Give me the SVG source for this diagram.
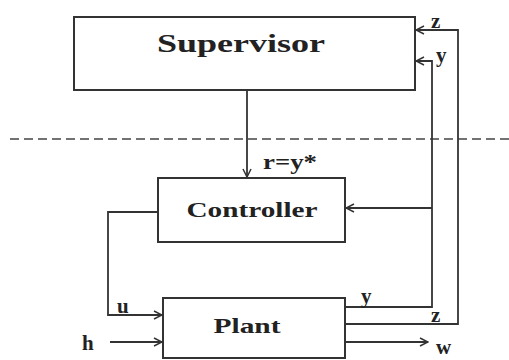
<svg xmlns="http://www.w3.org/2000/svg" width="509" height="360" viewBox="0 0 509 360">
<defs>
<style>
.box{fill:#fff;stroke:#333;stroke-width:2}
.ln{fill:none;stroke:#333;stroke-width:1.8}
.t{font-family:"Liberation Serif","Times New Roman",serif;font-weight:bold;fill:#222}
.s{font-size:21px}
</style>
<marker id="a" markerWidth="10" markerHeight="10" refX="9" refY="5" orient="auto" markerUnits="userSpaceOnUse">
<path d="M1,1 L9,5 L1,9" fill="none" stroke="#333" stroke-width="1.5"/>
</marker>
</defs>
<rect width="509" height="360" fill="#fff"/>
<line x1="10" y1="139" x2="509" y2="139" stroke="#444" stroke-width="1.6" stroke-dasharray="9,5"/>
<g id="supervisor">
<rect class="box" x="74" y="17" width="341" height="73"/>
<text class="t" x="241" y="52" font-size="26" text-anchor="middle" textLength="168" lengthAdjust="spacingAndGlyphs">Supervisor</text>
</g>
<g id="controller">
<rect class="box" x="158" y="178" width="187" height="64"/>
<text class="t" x="252" y="217" font-size="22" text-anchor="middle" textLength="131" lengthAdjust="spacingAndGlyphs">Controller</text>
</g>
<g id="plant">
<rect class="box" x="163" y="298" width="182" height="60"/>
<text class="t" x="247" y="333" font-size="22" text-anchor="middle" textLength="67" lengthAdjust="spacingAndGlyphs">Plant</text>
</g>
<g id="connectors">
<path class="ln" d="M247,90 V177" marker-end="url(#a)"/>
<path class="ln" d="M158,212 H108 V315 H162" marker-end="url(#a)"/>
<path class="ln" d="M110,342 H162" marker-end="url(#a)"/>
<path class="ln" d="M345,307 H432 V61 H416" marker-end="url(#a)"/>
<path class="ln" d="M432,208 H346" marker-end="url(#a)"/>
<path class="ln" d="M345,324 H458 V30 H416" marker-end="url(#a)"/>
<path class="ln" d="M345,342 H428" marker-end="url(#a)"/>
</g>
<g id="labels">
<text class="t" x="263" y="169" font-size="20" textLength="54" lengthAdjust="spacingAndGlyphs">r=y*</text>
<text class="t s" x="117" y="313">u</text>
<text class="t s" x="82" y="350">h</text>
<text class="t s" x="361" y="303">y</text>
<text class="t s" x="431" y="322">z</text>
<text class="t s" x="436" y="354">w</text>
<text class="t s" x="431" y="28">z</text>
<text class="t s" x="436" y="62">y</text>
</g>
</svg>
